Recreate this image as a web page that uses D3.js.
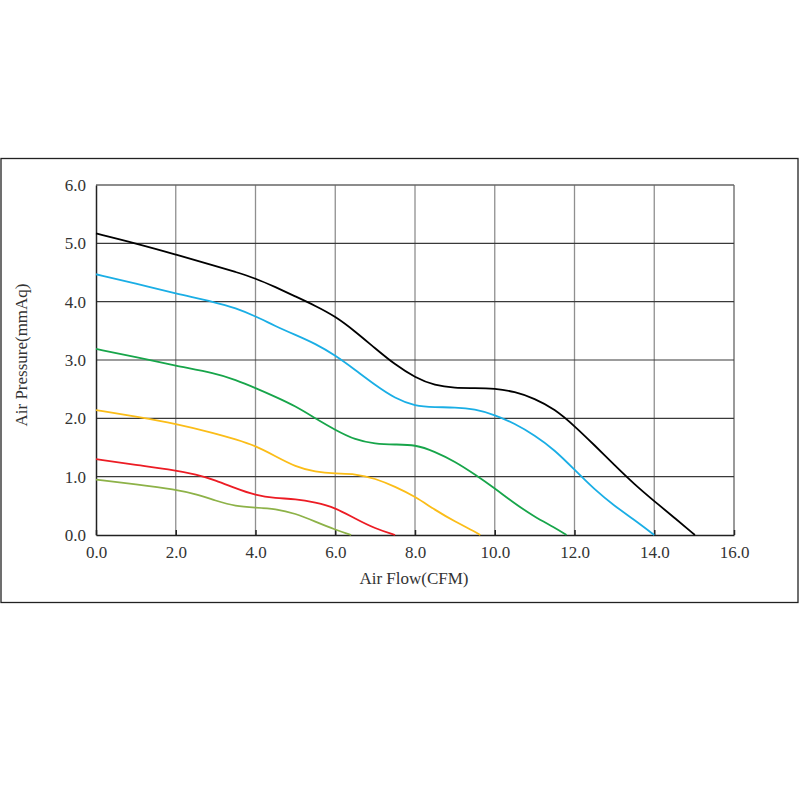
<!DOCTYPE html>
<html><head><meta charset="utf-8">
<script src="https://cdn.jsdelivr.net/npm/d3@7/dist/d3.min.js"></script>
<style>body{margin:0;background:#fff}svg{display:block}</style>
</head><body>
<svg id="c" width="800" height="800"></svg>
<script>
const xTicks = [0,2,4,6,8,10,12,14,16];
const yTicks = [0,1,2,3,4,5,6];
const xTitle = "Air Flow(CFM)";
const yTitle = "Air Pressure(mmAq)";
const seriesColors = ["#000000","#1aaee5","#17a54a","#fbbd18","#ec1c24","#8db248"];
const black = [[0,5.17],[1,5.0],[2,4.81],[3,4.61],[3.5,4.51],[4,4.40],[4.5,4.25],[5,4.09],[5.5,3.93],[6,3.75],[6.5,3.49],[7,3.2],[7.5,2.92],[8,2.70],[8.5,2.56],[9,2.52],[9.5,2.52],[10,2.51],[10.5,2.46],[11,2.34],[11.5,2.16],[12,1.87],[12.5,1.54],[13,1.20],[13.5,0.87],[14,0.58],[14.5,0.30],[15.02,0]];
const blue = [[0,4.47],[1,4.31],[2,4.14],[3,3.99],[3.5,3.89],[4,3.75],[4.5,3.58],[5,3.43],[5.5,3.28],[6,3.08],[6.5,2.83],[7,2.57],[7.5,2.34],[8,2.21],[8.5,2.19],[9,2.19],[9.5,2.16],[10,2.06],[10.5,1.91],[11,1.71],[11.5,1.46],[12,1.12],[12.5,0.78],[13,0.50],[13.5,0.26],[14,0]];
const green = [[0,3.19],[1,3.05],[2,2.90],[3,2.77],[3.5,2.66],[4,2.52],[4.5,2.37],[5,2.21],[5.5,2.0],[6,1.80],[6.5,1.63],[7,1.56],[7.5,1.55],[8,1.55],[8.5,1.43],[9,1.26],[9.5,1.04],[10,0.80],[10.5,0.54],[11,0.31],[11.5,0.13],[11.8,0]];
const yellow = [[0,2.14],[1,2.03],[2,1.91],[3,1.74],[3.5,1.64],[4,1.53],[4.5,1.35],[5,1.17],[5.5,1.08],[6,1.05],[6.5,1.05],[7,0.97],[7.5,0.83],[8,0.66],[8.5,0.43],[9,0.23],[9.5,0.06],[9.64,0]];
const red = [[0,1.30],[1,1.20],[2,1.11],[2.5,1.04],[3,0.94],[3.5,0.80],[4,0.68],[4.5,0.63],[5,0.62],[5.5,0.56],[6,0.47],[6.5,0.28],[7,0.11],[7.5,0]];
const olive = [[0,0.95],[1,0.87],[2,0.78],[2.5,0.70],[3,0.59],[3.5,0.49],[4,0.47],[4.5,0.45],[5,0.37],[5.5,0.23],[6,0.09],[6.4,0]];
const seriesList = [black, blue, green, yellow, red, olive];

const svg = d3.select("#c");
const L = 96, R = 734, T = 185, B = 535;
const x = d3.scaleLinear().domain([0,16]).range([L,R]);
const y = d3.scaleLinear().domain([0,6]).range([B,T]);
const FONT = "'Liberation Serif', serif";

// outer frame
svg.append("rect").attr("x",1).attr("y",158.5).attr("width",797).attr("height",444)
  .attr("fill","none").attr("stroke","#222").attr("stroke-width",1.3);

// vertical gridlines
svg.append("g").selectAll("line").data(xTicks.filter(d=>d>0)).join("line")
  .attr("x1",d=>x(d)).attr("x2",d=>x(d)).attr("y1",T).attr("y2",B)
  .attr("stroke",d=>d===16?"#9a9a9a":"#8f8f8f").attr("stroke-width",d=>d===16?2:1.3);
// horizontal gridlines
svg.append("g").selectAll("line").data(yTicks.filter(d=>d>0)).join("line")
  .attr("x1",L).attr("x2",R).attr("y1",d=>y(d)).attr("y2",d=>y(d))
  .attr("stroke",d=>d===6?"#666":"#3a3a3a").attr("stroke-width",d=>d===6?1.6:1.2);

// axes
const xAxis = d3.axisBottom(x).tickValues(xTicks).tickSizeInner(-5).tickSizeOuter(0).tickPadding(11).tickFormat(d3.format(".1f"));
const gx = svg.append("g").attr("transform",`translate(0,${B})`).call(xAxis);
gx.select(".domain").attr("stroke","#222").attr("stroke-width",1.5);
gx.selectAll(".tick line").attr("stroke","#222").attr("stroke-width",1.5);
gx.selectAll("text").attr("font-family",FONT).attr("font-size",17).attr("fill","#333");

const yAxis = d3.axisLeft(y).tickValues(yTicks).tickSize(0).tickPadding(10).tickFormat(d3.format(".1f"));
const gy = svg.append("g").attr("transform",`translate(${L},0)`).call(yAxis);
gy.select(".domain").attr("stroke","#222").attr("stroke-width",1.5);
gy.selectAll("text").attr("font-family",FONT).attr("font-size",17).attr("fill","#333");

// curves
const line = d3.line().x(d=>x(d[0])).y(d=>y(d[1])).curve(d3.curveBasis);
svg.append("g").selectAll("path").data(seriesList).join("path")
  .attr("d",line).attr("fill","none")
  .attr("stroke",(d,i)=>seriesColors[i]).attr("stroke-width",1.8);

// titles
svg.append("text").attr("x",414).attr("y",584).attr("text-anchor","middle")
  .attr("font-family",FONT).attr("font-size",17).attr("fill","#333").text(xTitle);
svg.append("text").attr("transform","translate(27,355) rotate(-90)").attr("text-anchor","middle")
  .attr("font-family",FONT).attr("font-size",17).attr("fill","#333").text(yTitle);
</script>
</body></html>
